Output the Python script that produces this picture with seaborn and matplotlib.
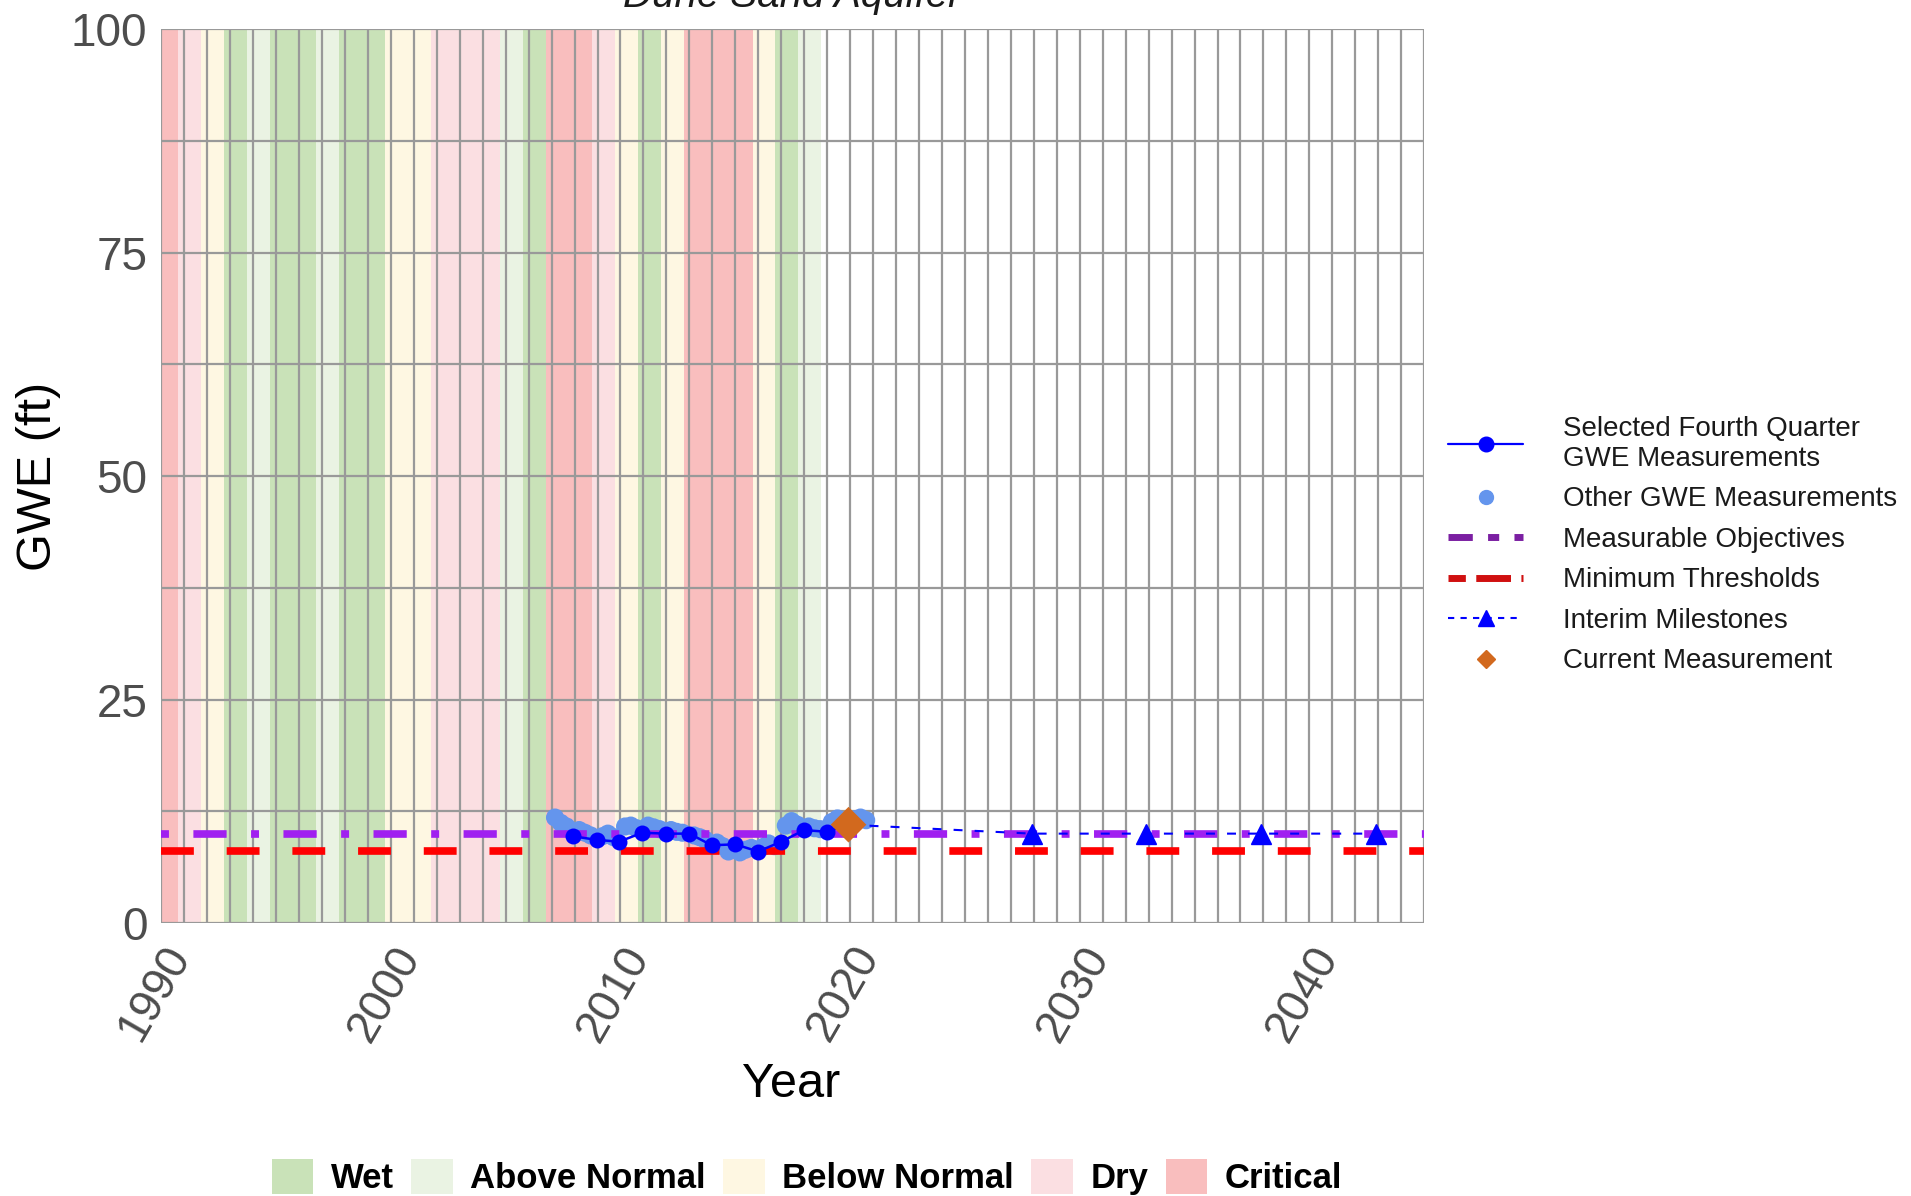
import matplotlib
matplotlib.use("Agg")
import matplotlib.pyplot as plt
from matplotlib.lines import Line2D
from matplotlib.patches import Patch
from matplotlib.ticker import MultipleLocator
import seaborn as sns

sns.set_style("white")
plt.rcParams["font.family"] = ["Liberation Sans", "DejaVu Sans"]

# water year types (water year N runs Oct N-1 .. Sep N)
wy_years = list(range(1990, 2019))
wy_types = ["Critical", "Dry", "Below Normal", "Wet", "Above Normal", "Wet",
            "Wet", "Above Normal", "Wet", "Wet", "Below Normal",
            "Below Normal", "Dry", "Dry", "Dry", "Above Normal", "Wet",
            "Critical", "Critical", "Dry", "Below Normal", "Wet",
            "Below Normal", "Critical", "Critical", "Critical",
            "Below Normal", "Wet", "Above Normal"]
type_order = ["Wet", "Above Normal", "Below Normal", "Dry", "Critical"]
type_colors = ["#C9E2B8", "#EAF3E3", "#FEF7E2", "#FBDFE2", "#F9BEBE"]

# selected fourth quarter measurements
sel_dates = [2007.95, 2008.97, 2009.94, 2010.95, 2011.97, 2013.0, 2013.97,
             2015.0, 2016.0, 2017.0, 2018.0, 2019.0, 2019.93]
sel_vals = [9.7, 9.3, 9.1, 10.1, 10.0, 10.0, 8.7, 8.8, 8.0, 9.1, 10.4,
            10.2, 11.0]

# other measurements
oth_dates = [2007.15, 2007.4, 2007.65, 2008.2, 2008.45, 2008.7, 2009.2,
             2009.45, 2009.7, 2010.2, 2010.45, 2010.7, 2011.2, 2011.45,
             2011.7, 2012.2, 2012.45, 2012.7, 2013.2, 2013.45, 2013.7,
             2014.2, 2014.45, 2014.7, 2015.2, 2015.45, 2015.7, 2016.2,
             2016.45, 2016.7, 2017.2, 2017.45, 2017.7, 2018.2, 2018.45,
             2018.7, 2019.2, 2019.45, 2019.7, 2020.2, 2020.45, 2020.7]
oth_vals = [11.8, 11.2, 10.8, 10.4, 10.1, 9.8, 9.7, 10.0, 9.6, 10.8, 10.9,
            10.6, 10.9, 10.7, 10.5, 10.4, 10.2, 10.1, 9.8, 9.6, 9.3, 9.0,
            8.6, 8.0, 7.9, 8.2, 8.4, 8.5, 8.9, 8.6, 10.9, 11.4, 11.0, 10.8,
            10.6, 10.5, 11.3, 11.7, 11.4, 11.6, 11.8, 11.5]

mo_value = 10.0
mt_value = 8.1

# interim milestones (first point = current measurement)
im_dates = [2019.93, 2027.9, 2032.9, 2037.9, 2042.9]
im_vals = [11.0, 10.0, 10.0, 10.0, 10.0]

cur_date = [2019.93]
cur_val = [11.0]

x_ticks = [1990, 2000, 2010, 2020, 2030, 2040]
y_ticks = [0, 25, 50, 75, 100]

W, H = 1911, 1196
fig = plt.figure(figsize=(W / 100, H / 100), dpi=100)
ax = fig.add_axes([161.2 / W, (H - 923) / H, 1263 / W, 893.7 / H])

color_of = dict(zip(type_order, type_colors))
for yr, t in zip(wy_years, wy_types):
    ax.axvspan(yr - 0.25, yr + 0.75, color=color_of[t], lw=0, zorder=0)

ax.set_xlim(1990, 2045)
ax.set_ylim(0, 100)
ax.xaxis.set_major_locator(MultipleLocator(10))
ax.xaxis.set_minor_locator(MultipleLocator(1))
ax.yaxis.set_major_locator(MultipleLocator(25))
ax.yaxis.set_minor_locator(MultipleLocator(12.5))
ax.set_xticks(x_ticks)
ax.set_yticks(y_ticks)
ax.set_axisbelow("line")
ax.grid(True, which="both", color="#999999", lw=1.6)
for s in ax.spines.values():
    s.set_visible(False)
ax.tick_params(axis="both", which="major", length=5, width=1.3,
               color="#333333", labelcolor="#4D4D4D", labelsize=33)
ax.tick_params(axis="both", which="minor", length=0)
ax.tick_params(axis="x", pad=6)
ax.tick_params(axis="y", pad=5)
for lab in ax.get_xticklabels():
    lab.set_rotation(60)
    lab.set_ha("right")
    lab.set_va("top")
    lab.set_rotation_mode("anchor")

sns.scatterplot(x=oth_dates, y=oth_vals, ax=ax, color="#6495ED", s=170,
                edgecolor="none", zorder=3, legend=False)
ax.axhline(mo_value, color="#A020F0", lw=5.5,
           ls=(7.55, (4.35, 3.2, 1.04, 3.2)), zorder=4)
ax.axhline(mt_value, color="#FF0000", lw=5.5, ls=(0, (4.3, 4.3)), zorder=4)
sns.lineplot(x=sel_dates, y=sel_vals, ax=ax, color="#0000FF", lw=1.8,
             marker="o", markersize=11.5, markeredgewidth=0, zorder=5)
ax.plot(im_dates, im_vals, color="#0000FF", lw=1.5, ls=(0, (4.3, 5.8)),
        marker="^", markersize=14, markevery=[1, 2, 3, 4], zorder=6)
sns.scatterplot(x=cur_date, y=cur_val, ax=ax, color="#D2691E", marker="D",
                s=330, edgecolor="none", zorder=7, legend=False)

ax.set_xlabel("Year", fontsize=35, color="black")
ax.set_ylabel("GWE (ft)", fontsize=35, color="black")
ax.xaxis.set_label_coords(0.499, -0.1555)
ax.yaxis.set_label_coords(-0.079, 0.5)

fig.text(792 / W, 1 - 7 / H, "Dune Sand Aquifer", ha="center",
         va="baseline", style="italic", fontsize=29, color="#1A1A1A")

handles = [
    Line2D([], [], color="#0000FF", lw=1.6, marker="o", markersize=10.5),
    Line2D([], [], ls="none", color="#6495ED", marker="o", markersize=10),
    Line2D([], [], color="#7B1FA2", lw=5, ls=(0, (3.5, 2.2, 1.6, 2.2))),
    Line2D([], [], color="#D01010", lw=5, ls=(0, (2.5, 1.5, 5.0, 1.5))),
    Line2D([], [], color="#0000FF", lw=1.5, ls=(0, (3, 3)), marker="^",
           markersize=12),
    Line2D([], [], ls="none", color="#D2691E", marker="D", markersize=9),
]
labels = ["Selected Fourth Quarter\nGWE Measurements",
          "Other GWE Measurements", "Measurable Objectives",
          "Minimum Thresholds", "Interim Milestones", "Current Measurement"]
leg = fig.legend(handles, labels, loc="upper left",
                 bbox_to_anchor=(1448 / W, 1 - 416 / H), frameon=False,
                 fontsize=20, handlelength=2.7, handletextpad=1.45,
                 labelspacing=0.52, borderpad=0, borderaxespad=0)
for t in leg.get_texts():
    t.set_color("#1A1A1A")

type_handles = [Patch(facecolor=c, edgecolor="none") for c in type_colors]
leg2 = fig.legend(type_handles, type_order, loc="center",
                  bbox_to_anchor=(807 / W, 1 - 1177 / H), frameon=False,
                  ncol=5, handlelength=1.2, handleheight=1.2,
                  handletextpad=0.5, columnspacing=0.5, borderpad=0,
                  prop={"weight": "bold", "size": 25})
for t in leg2.get_texts():
    t.set_color("black")

fig.savefig("out.png", dpi=100)
